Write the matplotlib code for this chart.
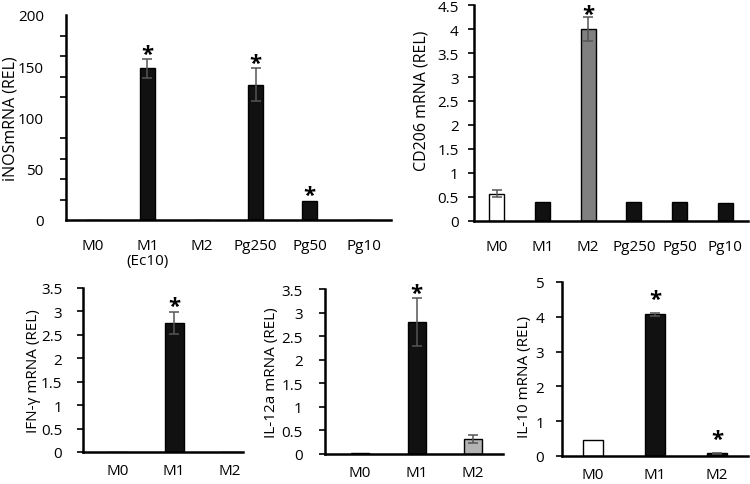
import matplotlib.pyplot as plt

plt.rcParams["font.family"] = ["Open Sans", "DejaVu Sans"]

W, H = 750, 485

# iNOS panel
inos_cats = ["M0", "M1\n(Ec10)", "M2", "Pg250", "Pg50", "Pg10"]
inos_vals = [0, 148, 0, 132, 19, 0]
inos_err = [0, 9, 0, 16, 0, 0]
inos_star = [False, True, False, True, True, False]

# CD206 panel
cd206_cats = ["M0", "M1", "M2", "Pg250", "Pg50", "Pg10"]
cd206_vals = [0.57, 0.40, 4.00, 0.40, 0.39, 0.37]
cd206_err = [0.07, 0.0, 0.25, 0.0, 0.0, 0.0]
cd206_star = [False, False, True, False, False, False]
cd206_colors = ["white", "#111111", "#808080", "#111111", "#111111", "#111111"]

# bottom panels
small_cats = ["M0", "M1", "M2"]
ifng_vals = [0, 2.75, 0]
ifng_err = [0, 0.24, 0]
ifng_star = [False, True, False]

il12_vals = [0.03, 2.8, 0.32]
il12_err = [0, 0.5, 0.08]
il12_star = [False, True, False]
il12_colors = ["#111111", "#111111", "#b3b3b3"]

il10_vals = [0.45, 4.07, 0.08]
il10_err = [0, 0.05, 0.02]
il10_star = [False, True, True]
il10_colors = ["white", "#111111", "#111111"]

FS = 11


def panel(left, right, top, bottom, xlim, xpad, ypad):
    ax = fig.add_axes([left / W, 1 - bottom / H, (right - left) / W, (bottom - top) / H])
    ax.spines["top"].set_visible(False)
    ax.spines["right"].set_visible(False)
    ax.spines["left"].set_linewidth(1.8)
    ax.spines["bottom"].set_linewidth(1.8)
    ax.set_xlim(*xlim)
    ax.tick_params(axis="x", length=0, pad=xpad, labelsize=FS)
    ax.tick_params(axis="y", direction="out", length=4, width=1.2, labelsize=FS, pad=ypad)
    return ax


def draw(ax, cats, vals, err, stars, colors, width, ylim, yticks, ylabel, star_off,
         lab_xy, lab_fs=11.5):
    x = list(range(len(cats)))
    ax.bar(x, vals, width=width, color=colors, edgecolor="black", linewidth=1, zorder=2)
    for i, (v, e) in enumerate(zip(vals, err)):
        if e > 0:
            ax.errorbar(i, v, yerr=e, color="#555555", capsize=3.5, elinewidth=1.1,
                        capthick=1.1, zorder=3)
        if stars[i]:
            ax.annotate("*", (i, v + e), xytext=(0, star_off), textcoords="offset points",
                        ha="center", va="bottom", fontsize=16, fontweight="bold")
    ax.set_ylim(*ylim)
    ax.set_yticks(yticks)
    ax.set_yticklabels([f"{t:g}" for t in yticks])
    ax.set_xticks(x)
    ax.set_xticklabels(cats, linespacing=1.0, va="top")
    ax.set_ylabel(ylabel, fontsize=lab_fs, va="center")
    ax.yaxis.set_label_coords(*lab_xy)


fig = plt.figure(figsize=(W / 100, H / 100), dpi=100)

ax1 = panel(66, 391, 16, 221, (-0.5, 5.5), 13, 16)
draw(ax1, inos_cats, inos_vals, inos_err, inos_star, "#111111", 0.28,
     (0, 200), [0, 50, 100, 150, 200], "iNOSmRNA (REL)", -4, (-0.172, 0.5))
ax1.set_yticks(range(0, 201, 20), minor=True)
ax1.tick_params(axis="y", which="major", length=0)
ax1.tick_params(axis="y", which="minor", length=4, width=1.2)

ax2 = panel(474, 748, 6, 222, (-0.5, 5.5), 13, 7)
draw(ax2, cd206_cats, cd206_vals, cd206_err, cd206_star, cd206_colors, 0.33,
     (0, 4.5), [0, 0.5, 1, 1.5, 2, 2.5, 3, 3.5, 4, 4.5], "CD206 mRNA (REL)", -6,
     (-0.19, 0.56))

ax3 = panel(83, 243, 289, 453, (-0.625, 2.23), 8, 11)
draw(ax3, small_cats, ifng_vals, ifng_err, ifng_star, "#111111", 0.34,
     (0, 3.5), [0, 0.5, 1, 1.5, 2, 2.5, 3, 3.5], "IFN-γ mRNA (REL)", -4, (-0.31, 0.5), 11)

ax4 = panel(325, 503, 290, 455, (-0.62, 2.53), 8, 12)
draw(ax4, small_cats, il12_vals, il12_err, il12_star, il12_colors, 0.32,
     (0, 3.5), [0, 0.5, 1, 1.5, 2, 2.5, 3, 3.5], "IL-12a mRNA (REL)", -4, (-0.30, 0.5), 11)

ax5 = panel(562, 748, 283, 457, (-0.5, 2.5), 8, 9)
draw(ax5, small_cats, il10_vals, il10_err, il10_star, il10_colors, 0.32,
     (0, 5), [0, 1, 2, 3, 4, 5], "IL-10 mRNA (REL)", 2, (-0.20, 0.46), 11)

fig.savefig("out.png", dpi=100)
